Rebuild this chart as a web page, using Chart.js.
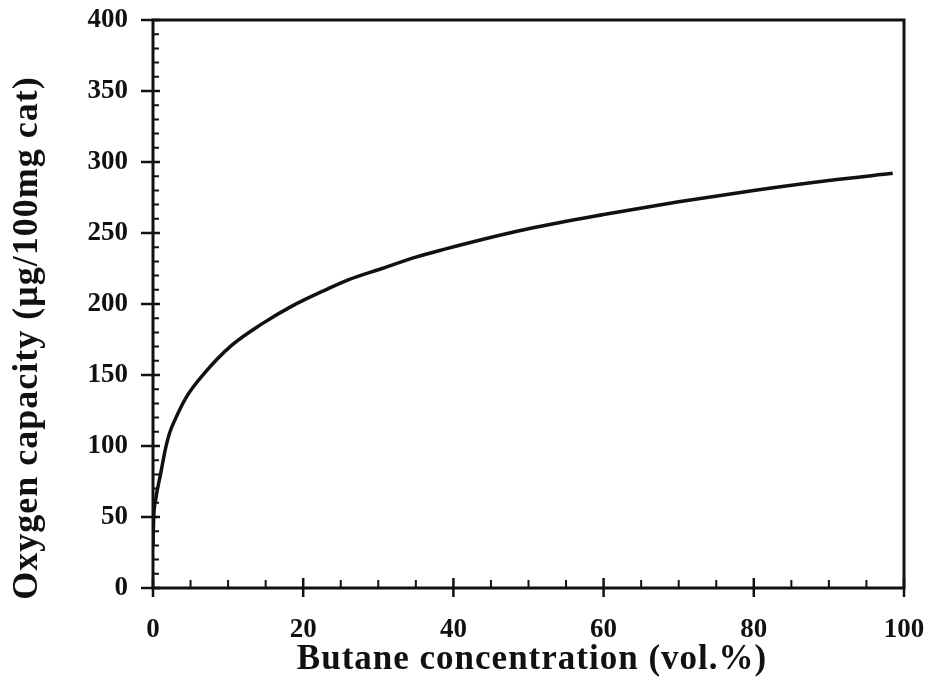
<!DOCTYPE html>
<html>
<head>
<meta charset="utf-8">
<title>Oxygen capacity vs butane concentration</title>
<script src="https://cdn.jsdelivr.net/npm/chart.js@4.4.1/dist/chart.umd.min.js"></script>
<style>
  html, body { margin: 0; padding: 0; background: #fff; }
  canvas { display: block; }
</style>
</head>
<body>
<canvas id="chart" width="930" height="677"></canvas>
<script>
// butane concentration (vol.%)
const butane = [0, 0.1, 0.35, 1.0, 1.7, 2.2, 2.8, 4.5, 6.8, 10.5, 14.5, 18.5, 23, 26, 30.5, 35, 42,
  50, 60, 70, 80, 90, 98.5];
// oxygen capacity (ug/100mg cat)
const oxygen = [30, 50, 62, 80, 99, 109, 117, 135, 151, 171, 186, 198.5, 210, 217, 225, 233, 243,
  253, 263, 272, 280, 287, 292];

const xTickLabels = [0, 20, 40, 60, 80, 100];
const yTickLabels = [0, 50, 100, 150, 200, 250, 300, 350, 400];

const serif = "'Liberation Serif', 'Times New Roman', serif";
const ink = "#111";

// frame, inward ticks and both axis titles
const frame = {
  id: "frame",
  afterDraw(chart) {
    const { ctx, chartArea: a, scales } = chart;
    const x = scales.x, y = scales.y;
    ctx.save();
    ctx.strokeStyle = ink;
    ctx.lineCap = "butt";

    // minor ticks
    ctx.lineWidth = 2;
    ctx.beginPath();
    for (let v = 0; v <= 100; v += 5) {
      if (v % 20 === 0) continue;
      const px = x.getPixelForValue(v);
      ctx.moveTo(px, a.bottom);
      ctx.lineTo(px, a.bottom - 8);
    }
    for (let v = 0; v <= 400; v += 10) {
      if (v % 50 === 0) continue;
      const py = y.getPixelForValue(v);
      ctx.moveTo(a.left, py);
      ctx.lineTo(a.left + 6, py);
    }
    ctx.stroke();

    // major ticks cross the axis
    ctx.lineWidth = 2.5;
    ctx.beginPath();
    xTickLabels.forEach(v => {
      const px = x.getPixelForValue(v);
      ctx.moveTo(px, a.bottom - 10);
      ctx.lineTo(px, a.bottom + 9);
    });
    yTickLabels.forEach(v => {
      const py = y.getPixelForValue(v);
      ctx.moveTo(a.left - 12, py);
      ctx.lineTo(a.left + 7, py);
    });
    ctx.stroke();

    // box
    ctx.lineWidth = 3;
    ctx.strokeRect(a.left, a.top, a.right - a.left, a.bottom - a.top);

    // titles
    ctx.fillStyle = ink;
    ctx.textAlign = "center";
    ctx.textBaseline = "middle";
    ctx.font = "bold 35px " + serif;
    ctx.letterSpacing = "1px";
    ctx.fillText("Butane concentration (vol.%)", 532, 660);

    ctx.font = "bold 36px " + serif;
    ctx.letterSpacing = "1px";
    ctx.translate(28, 338);
    ctx.rotate(-Math.PI / 2);
    ctx.fillText("Oxygen capacity (\u03bcg/100mg cat)", 0, 0);
    ctx.restore();
  }
};

new Chart(document.getElementById("chart"), {
  type: "line",
  data: {
    datasets: [{
      data: butane.map((b, i) => ({ x: b, y: oxygen[i] })),
      borderColor: ink,
      borderWidth: 3.5,
      pointRadius: 0,
      cubicInterpolationMode: "monotone",
      fill: false
    }]
  },
  options: {
    responsive: false,
    animation: false,
    layout: { padding: { left: 0, right: 26, top: 20, bottom: 0 } },
    plugins: { legend: { display: false }, tooltip: { enabled: false } },
    scales: {
      x: {
        type: "linear",
        min: 0,
        max: 100,
        afterBuildTicks: s => { s.ticks = xTickLabels.map(v => ({ value: v })); },
        afterFit: s => { s.height = 89; s.paddingLeft = 0; s.paddingRight = 0; },
        grid: { display: false, drawTicks: false },
        border: { display: false },
        ticks: { color: ink, padding: 26, font: { family: serif, size: 27, weight: "bold" } }
      },
      y: {
        min: 0,
        max: 400,
        afterBuildTicks: s => { s.ticks = yTickLabels.map(v => ({ value: v })); },
        afterFit: s => { s.width = 153; s.paddingTop = 0; s.paddingBottom = 0; },
        grid: { display: false, drawTicks: false },
        border: { display: false },
        ticks: { color: ink, padding: 25, font: { family: serif, size: 27, weight: "bold" } }
      }
    }
  },
  plugins: [frame]
});
</script>
</body>
</html>
